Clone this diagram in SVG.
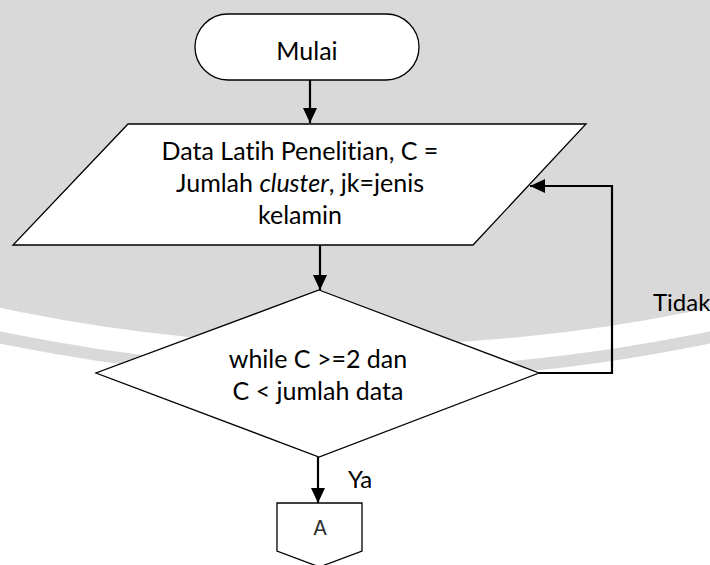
<svg xmlns="http://www.w3.org/2000/svg" width="710" height="565" viewBox="0 0 710 565">
  <style>
    .shape { fill: #ffffff; stroke: #000000; stroke-width: 1.3; }
    .conn { fill: none; stroke: #000000; stroke-width: 2.2; }
    .txt { font-family: "Lato", "Carlito", "Liberation Sans", sans-serif; font-size: 25px; fill: #000000; text-anchor: middle; font-variant-ligatures: none; }
    .lbl { font-family: "Lato", "Carlito", "Liberation Sans", sans-serif; font-size: 24px; fill: #000000; font-variant-ligatures: none; }
    .mono { font-family: "Liberation Mono", "Courier New", monospace; font-size: 22px; fill: #333333; text-anchor: middle; }
  </style>
  <defs>
    <marker id="arrow" markerUnits="userSpaceOnUse" markerWidth="16" markerHeight="16" viewBox="0 0 16 16" refX="15" refY="8" orient="auto">
      <path d="M0,1 L15,8 L0,15 Z" fill="#000000"/>
    </marker>
  </defs>

  <!-- background -->
  <rect x="0" y="0" width="710" height="565" fill="#ffffff"/>
  <g id="watermark">
    <circle cx="355" cy="-1370" r="1750" fill="#d9d9d9"/>
    <circle cx="355" cy="-1370" r="1738" fill="#ffffff"/>
    <circle cx="355" cy="-1370" r="1715" fill="#d9d9d9"/>
  </g>

  <g id="connectors">
    <line class="conn" x1="310" y1="80" x2="310" y2="123" marker-end="url(#arrow)"/>
    <line class="conn" x1="320" y1="245" x2="320" y2="290" marker-end="url(#arrow)"/>
    <polyline class="conn" points="539,373 612,373 612,186 530,186" marker-end="url(#arrow)"/>
    <line class="conn" x1="318" y1="457" x2="318" y2="503" marker-end="url(#arrow)"/>
  </g>

  <g id="start">
    <rect class="shape" x="195" y="14" width="224" height="66" rx="33" ry="33"/>
    <text class="txt" x="307" y="60">Mulai</text>
  </g>

  <g id="input">
    <polygon class="shape" points="128,124 586,124 473,245 13,245"/>
    <text class="txt" x="300" y="160">Data Latih Penelitian, C =</text>
    <text class="txt" x="300" y="192">Jumlah <tspan font-style="italic">cluster</tspan>, jk=jenis</text>
    <text class="txt" x="300" y="224">kelamin</text>
  </g>

  <g id="decision">
    <polygon class="shape" points="319,290 539,373 319,457 96,373"/>
    <text class="txt" x="318" y="368">while C &gt;=2 dan</text>
    <text class="txt" x="318" y="400">C &lt; jumlah data</text>
  </g>

  <g id="label-tidak">
    <text class="lbl" x="653" y="311">Tidak</text>
  </g>
  <g id="label-ya">
    <text class="lbl" x="348" y="488">Ya</text>
  </g>

  <g id="connector-a">
    <polygon class="shape" points="277,503 362,503 362,551 319.5,567 277,551"/>
    <text class="mono" x="320" y="535">A</text>
  </g>
</svg>
